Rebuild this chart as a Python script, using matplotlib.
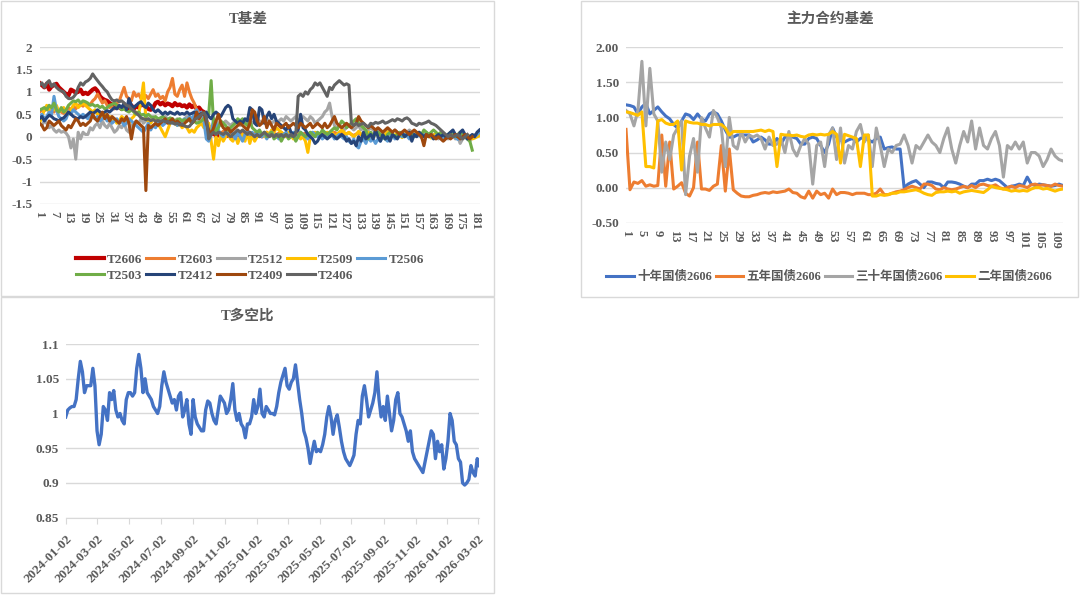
import matplotlib
matplotlib.use("Agg")
import matplotlib.pyplot as plt
from matplotlib.patches import Rectangle
import numpy as np
import pandas as pd

plt.rcParams['font.family'] = ['Liberation Serif', 'Noto Sans CJK SC', 'DejaVu Sans']
plt.rcParams['axes.unicode_minus'] = False

# ---------------- data: T基差 ----------------
T_NAMES = ["T2606", "T2603", "T2512", "T2509", "T2506", "T2503", "T2412", "T2409", "T2406"]
T_COLORS = ["#C00000", "#ED7D31", "#A5A5A5", "#FFC000", "#5B9BD5", "#70AD47", "#264478", "#9E480E", "#636363"]

T2606 = [1.20, 1.15, 1.10, 1.18, 1.05, 1.12, 1.15, 1.18, 1.10, 1.05,
         1.00, 0.95, 0.92, 1.05, 1.02, 0.98, 1.00, 1.05, 0.95, 0.98,
         0.95, 1.00, 1.05, 1.08, 1.02, 0.90, 0.85, 0.82, 0.80, 0.75,
         0.72, 0.70, 0.68, 0.65, 0.62, 0.68, 0.60, 0.65, 0.70, 0.62,
         0.68, 0.65, 0.72, 0.70, 0.68, 0.62, 0.60, 0.65, 0.75, 0.78,
         0.72, 0.76, 0.70, 0.74, 0.72, 0.68, 0.75, 0.70, 0.72, 0.68,
         0.70, 0.65, 0.72, 0.66, 0.70, 0.62, 0.65, 0.58, 0.55, 0.35,
         0.10, 0.05, 0.08, 0.02, 0.05, 0.00, 0.03, 0.06, 0.02, 0.04,
         0.00, 0.03, 0.05, 0.02, 0.06, 0.03, 0.00, 0.02, 0.05, 0.03,
         0.02, 0.04, 0.01, 0.03, 0.05, 0.02, 0.06, 0.04, 0.01, 0.03]

T2603 = [0.55, 0.60, 0.58, 0.62, 0.65, 0.60, 0.55, 0.62, 0.58, 0.55,
         0.52, 0.58, 0.65, 0.60, 0.68, 0.62, 0.70, 0.72, 0.68, 0.75,
         0.70, 0.72, 0.80, 0.85, 0.95, 0.85, 0.75, 0.80, 0.70, 0.65,
         0.68, 0.62, 0.75, 0.80, 0.95, 1.10, 0.90, 0.85, 0.80, 1.00,
         0.90, 0.95, 0.85, 0.88, 0.92, 0.85, 0.95, 1.05, 0.90, 0.95,
         0.85, 0.90, 0.80, 1.00, 1.10, 1.30, 0.95, 0.90, 1.05, 1.15,
         0.90, 1.20, 1.00, 0.85, 0.75, 0.60, 0.55, 0.50, 0.45, 0.30,
         0.20, 0.10, 0.15, 0.05, 0.10, 0.08, 0.12, 0.05, 0.10, 0.06,
         0.08, 0.05, 0.10, 0.12, 0.06, 0.04, 0.08, 0.10, 0.05, 0.07,
         0.09, 0.05, 0.03, 0.08, 0.10, 0.06, 0.04, 0.07, 0.05, 0.08,
         0.10, 0.06, 0.04, 0.08, 0.05, 0.03, 0.07, 0.09, 0.05, 0.06,
         0.08, 0.04, 0.06, 0.09, 0.05, 0.03, 0.07, 0.05, 0.08, 0.06,
         0.04, 0.07, 0.10, 0.06, 0.04, 0.08, 0.05, 0.07, 0.09, 0.05,
         0.03, 0.06, 0.08, 0.05, 0.04, 0.07, 0.05, 0.03, 0.06, 0.08,
         0.05, 0.04, 0.06, 0.03, 0.05, 0.07, 0.04, 0.02, 0.05, 0.06,
         0.04, 0.03, 0.05, 0.07, 0.04, 0.02, 0.05, 0.03, 0.06, 0.04,
         0.03, 0.05, 0.02, 0.04, 0.06, 0.03, 0.05, 0.04, 0.02, 0.03,
         0.05, 0.03, 0.01, 0.04, 0.02, 0.03, 0.05, 0.02, 0.00, 0.03,
         0.02, 0.04, 0.03]

T2512 = [0.30, 0.25, 0.35, 0.30, 0.20, 0.25, 0.15, 0.10, 0.15, 0.10,
         0.12, 0.08, 0.00, -0.25, -0.05, -0.50, 0.10, -0.05, 0.10, 0.05,
         0.05, 0.20, 0.15, 0.25, 0.30, 0.20, 0.35, 0.25, 0.20, 0.30,
         0.20, 0.10, 0.15, 0.25, 0.20, 0.30, 0.15, 0.10, 0.25, 0.30,
         0.35, 0.30, 0.40, 0.30, 0.35, 0.40, 0.35, 0.45, 0.40, 0.35,
         0.40, 0.35, 0.45, 0.40, 0.35, 0.30, 0.35, 0.40, 0.30, 0.35,
         0.40, 0.45, 0.35, 0.40, 0.45, 0.40, 0.35, 0.45, 0.40, 0.30,
         0.25, 0.20, 0.30, 0.35, 0.30, 0.25, 0.30, 0.35, 0.30, 0.25,
         0.30, 0.35, 0.30, 0.25, 0.35, 0.30, 0.40, 0.35, 0.30, 0.35,
         0.40, 0.35, 0.30, 0.35, 0.40, 0.35, 0.30, 0.35, 0.30, 0.35,
         0.40, 0.35, 0.45, 0.40, 0.35, 0.40, 0.45, 0.35, 0.40, 0.45,
         0.40, 0.35, 0.45, 0.40, 0.30, 0.35, 0.40, 0.45, 0.55, 0.60,
         0.75, 0.45, 0.25, 0.20, 0.25, 0.20, 0.15, 0.20, 0.25, 0.20,
         0.15, 0.20, 0.25, 0.15, 0.20, 0.10, 0.15, 0.20, 0.15, 0.10,
         0.15, 0.10, 0.05, 0.10, 0.15, 0.05, 0.10, 0.15, 0.10, 0.05,
         0.10, 0.05, 0.10, 0.15, 0.10, 0.05, 0.10, 0.05, 0.00, 0.05,
         0.10, 0.05, 0.00, 0.05, 0.00, -0.05, 0.00, 0.05, 0.00, -0.05,
         0.00, 0.05, -0.05, 0.00, -0.15, -0.05, 0.00, -0.05, -0.10, 0.00,
         0.05, 0.00, 0.05]

T2509 = [0.30, 0.45, 0.60, 0.70, 0.55, 0.65, 0.60, 0.70, 0.55, 0.60,
         0.65, 0.55, 0.50, 0.60, 0.70, 0.75, 0.65, 0.70, 0.75, 0.70,
         0.65, 0.60, 0.55, 0.60, 0.50, 0.55, 0.45, 0.50, 0.40, 0.45,
         0.35, 0.40, 0.30, 0.35, 0.45, 0.40, 0.35, 0.30, 0.40, 0.45,
         0.55, 0.50, 0.80, 1.20, 0.40, 0.35, 0.30, 0.40, 0.35, 0.30,
         0.20, 0.10, 0.00, 0.15, 0.30, 0.35, 0.30, 0.25, 0.30, 0.20,
         0.25, 0.20, 0.10, 0.15, 0.10, 0.20, 0.25, 0.30, 0.20, 0.25,
         0.30, -0.10, -0.50, 0.00, -0.20, 0.05, -0.10, 0.00, 0.10, -0.05,
         -0.10, 0.05, -0.15, 0.00, 0.05, -0.10, 0.10, -0.15, 0.05, -0.10,
         0.00, 0.10, 0.05, 0.00, 0.10, 0.05, 0.15, 0.10, 0.20, 0.15,
         0.10, 0.05, 0.00, 0.10, 0.05, -0.05, 0.00, 0.05, -0.05, 0.00,
         -0.10, -0.35, 0.00, 0.05, 0.10, 0.05, 0.00, 0.10, 0.05, 0.10,
         0.05, 0.10, 0.00, 0.05, 0.10, 0.15, 0.10, 0.05, 0.10, 0.05,
         0.00, 0.05, 0.12, 0.06, -0.02, 0.04, 0.10, 0.03, 0.00, 0.06,
         0.09, 0.04, -0.03, 0.05, 0.11, 0.06, 0.01, 0.04, 0.08, 0.03,
         -0.02, 0.05, 0.09, 0.04, 0.00, 0.06, 0.10, 0.05, 0.01, 0.03,
         0.07, 0.02, -0.03, 0.04, 0.06, 0.01, 0.05, 0.03, -0.02, 0.04,
         0.02, 0.05, 0.00, -0.04, 0.03, 0.01, 0.04, -0.02, 0.02, -0.05,
         -0.03, 0.00, 0.02]

T2506 = [0.45, 0.50, 0.40, 0.45, 0.55, 0.50, 0.90, 0.60, 0.45, 0.40,
         0.35, 0.40, 0.55, 0.50, 0.60, 0.55, 0.50, 0.45, 0.50, 0.45,
         0.40, 0.50, 0.45, 0.40, 0.45, 0.35, 0.40, 0.45, 0.35, 0.40,
         0.30, 0.35, 0.40, 0.30, 0.35, 0.25, 0.30, 0.40, 0.35, 0.30,
         0.25, 0.20, 0.15, 0.10, 0.20, 0.30, 0.15, 0.25, 0.20, 0.30,
         0.35, 0.25, 0.30, 0.35, 0.40, 0.30, 0.35, 0.25, 0.30, 0.35,
         0.40, 0.35, 0.45, 0.40, 0.50, 0.60, 0.45, 0.55, 0.35, -0.05,
         -0.10, 0.05, 0.40, 0.30, 0.15, 0.05, 0.00, 0.10, 0.05, 0.15,
         0.05, -0.05, 0.10, 0.00, -0.10, 0.05, 0.15, 0.05, 0.10, 0.00,
         0.10, 0.05, 0.00, 0.10, -0.05, 0.05, 0.10, 0.00, 0.05, -0.05,
         0.00, 0.05, 0.10, 0.00, 0.05, 0.10, 0.05, 0.00, 0.10, 0.05,
         0.00, -0.05, 0.05, 0.10, 0.05, 0.00, 0.05, -0.05, 0.00, 0.05,
         0.00, 0.05, -0.05, 0.00, 0.05, 0.00, -0.05, 0.00, -0.10, -0.15,
         -0.05, -0.20, -0.25, -0.10, -0.05, -0.15, 0.00, -0.10, -0.05, -0.15,
         -0.05, -0.10, 0.00, -0.05, -0.10, 0.00, 0.05, -0.05, 0.00, 0.05,
         0.00, 0.05, 0.02, -0.05, 0.00, 0.06, 0.01, 0.04, -0.02, 0.05,
         0.00, 0.03, 0.01, -0.04, 0.02, 0.05, 0.00, -0.05, 0.02, 0.04,
         0.00, 0.03, -0.02, -0.06, 0.01, 0.04, -0.01, -0.04, 0.00, 0.03,
         0.00, 0.05, 0.10]

T2503 = [0.60, 0.62, 0.65, 0.60, 0.70, 0.65, 0.75, 0.60, 0.55, 0.65,
         0.55, 0.60, 0.70, 0.75, 0.80, 0.78, 0.82, 0.75, 0.80, 0.78,
         0.75, 0.70, 0.72, 0.68, 0.70, 0.65, 0.68, 0.62, 0.65, 0.70,
         0.72, 0.75, 0.70, 0.65, 0.60, 0.62, 0.58, 0.55, 0.60, 0.55,
         0.50, 0.55, 0.48, 0.50, 0.45, 0.50, 0.45, 0.42, 0.45, 0.40,
         0.42, 0.45, 0.40, 0.38, 0.42, 0.40, 0.35, 0.38, 0.40, 0.35,
         0.38, 0.35, 0.40, 0.30, 0.35, 0.30, 0.32, 0.35, 0.40, 0.45,
         0.50, 1.25, 0.30, 0.10, 0.20, 0.35, 0.30, 0.25, 0.15, 0.20,
         0.25, 0.30, 0.40, 0.35, 0.40, 0.30, 0.25, 0.35, 0.20, 0.15,
         0.10, 0.15, 0.05, 0.10, 0.00, 0.05, 0.10, -0.05, 0.00, 0.05,
         -0.10, 0.00, 0.05, -0.05, 0.00, 0.05, -0.10, 0.00, 0.10, 0.05,
         0.00, 0.05, 0.10, 0.05, 0.00, 0.10, 0.05, 0.15, 0.10, 0.05,
         0.10, 0.15, 0.20, 0.15, 0.25, 0.35, 0.30, 0.20, 0.25, 0.30,
         0.35, 0.40, 0.30, 0.25, 0.20, 0.15, -0.05, 0.10, 0.00, 0.05,
         0.10, 0.05, 0.00, -0.05, 0.05, 0.10, 0.05, 0.00, 0.05, 0.10,
         0.05, 0.00, 0.05, 0.10, 0.05, 0.00, 0.05, 0.10, 0.05, 0.15,
         0.10, 0.05, 0.10, 0.15, 0.10, 0.05, 0.10, 0.05, 0.00, 0.05,
         0.10, 0.05, 0.00, 0.05, 0.10, 0.05, 0.00, -0.05, -0.10, -0.30]

T2412 = [0.40, 0.45, 0.35, 0.42, 0.48, 0.45, 0.40, 0.38, 0.35, 0.40,
         0.42, 0.48, 0.55, 0.50, 0.45, 0.42, 0.40, 0.45, 0.42, 0.45,
         0.50, 0.55, 0.52, 0.55, 0.60, 0.55, 0.52, 0.55, 0.58, 0.55,
         0.60, 0.65, 0.62, 0.70, 0.65, 0.75, 0.60, 0.85, 0.70, 0.65,
         0.70, 0.75, 0.78, 0.70, 0.65, 0.75, 0.70, 0.60, 0.55, 0.60,
         0.55, 0.50, 0.55, 0.50, 0.55, 0.52, 0.50, 0.55, 0.50, 0.52,
         0.50, 0.55, 0.50, 0.52, 0.55, 0.50, 0.48, 0.52, 0.50, 0.55,
         0.45, 0.40, 0.50, 0.55, 0.50, 0.45, 0.55, 0.65, 0.70, 0.65,
         0.40, 0.35, 0.30, 0.35, 0.30, 0.40, 0.35, 0.65, 0.60, 0.30,
         0.25, 0.65, 0.60, 0.30, 0.45, 0.55, 0.40, 0.50, 0.35, 0.30,
         0.25, 0.20, 0.15, 0.25, 0.10, 0.05, 0.10, 0.15, 0.50, 0.20,
         0.15, 0.05, 0.00, -0.05, -0.15, -0.10, 0.00, 0.05, 0.00, -0.05,
         0.00, 0.05, 0.00, -0.05, 0.00, 0.05, 0.00, -0.10, -0.05, -0.15,
         -0.10, -0.20, 0.00, -0.10, 0.10, -0.05, 0.00, 0.05, -0.05, 0.15,
         0.00, -0.10, 0.05, -0.05, 0.00, -0.10, 0.05, 0.00, -0.05, 0.05,
         0.10, 0.00, 0.05, 0.10, -0.10, 0.05, 0.00, 0.10, 0.05, 0.00,
         0.05, 0.00, 0.05, -0.05, 0.00, 0.05, 0.00, 0.05, 0.00, 0.05,
         0.10, 0.15, 0.05, 0.00, 0.10, 0.15, 0.05, -0.05, 0.00, 0.05,
         0.00, 0.10, 0.15]

T2409 = [0.30, 0.25, 0.15, 0.20, 0.35, 0.30, 0.25, 0.30, 0.35, 0.25,
         0.20, 0.15, 0.25, 0.20, 0.30, 0.40, 0.35, 0.25, 0.30, 0.25,
         0.30, 0.35, 0.50, 0.40, 0.35, 0.45, 0.55, 0.40, 0.50, 0.35,
         0.45, 0.40, 0.35, 0.30, 0.40, 0.35, 0.45, 0.30, -0.05, 0.25,
         0.35, 0.30, 0.25, 0.20, -1.20, 0.25, 0.20, 0.25, 0.30, 0.25,
         0.30, 0.35, 0.40, 0.30, 0.35, 0.40, 0.30, 0.35, 0.30, 0.25,
         0.30, 0.35, 0.40, 0.30, 0.35, 0.55, 0.40, 0.50, 0.55, 0.30,
         0.15, 0.05, 0.20, 0.35, 0.50, 0.30, 0.20, 0.15, 0.20, 0.10,
         0.15, 0.20, 0.25, 0.30, 0.25, 0.20, 0.15, 0.30, 0.60, 0.55,
         0.35, 0.25, 0.30, 0.45, 0.20, 0.35, 0.25, 0.15, 0.30, 0.25,
         0.20, 0.25, 0.30, 0.20, 0.25, 0.30, 0.25, 0.20, 0.30, 0.25,
         0.20, 0.25, 0.30, 0.20, 0.25, 0.30, 0.25, 0.20, 0.30, 0.20,
         0.25, 0.35, 0.45, 0.30, 0.25, 0.20, 0.25, 0.30, 0.25, 0.20,
         0.25, 0.30, 0.45, 0.35, 0.30, 0.25, 0.20, 0.25, 0.20, 0.15,
         0.20, 0.15, 0.10, 0.15, 0.20, 0.15, 0.10, 0.15, 0.10, 0.05,
         0.10, 0.15, 0.10, 0.05, 0.10, 0.15, 0.10, 0.05, 0.00, -0.20,
         0.05, 0.00, 0.05, 0.00, -0.05, 0.00, -0.05, -0.10, -0.05, 0.00,
         -0.05, 0.00, 0.05, 0.00, -0.05, 0.00, 0.05, 0.00, -0.05, 0.00]

T2406 = [1.15, 1.20, 1.10, 1.20, 1.25, 1.12, 1.18, 1.10, 1.05, 1.02,
         1.00, 0.90, 0.85, 0.85, 0.88, 0.95, 1.10, 1.20, 1.15, 1.22,
         1.25, 1.30, 1.40, 1.32, 1.25, 1.18, 1.12, 1.05, 1.00, 0.90,
         0.82, 0.80, 0.82, 0.78, 0.80, 0.75, 0.70, 0.68, 0.62, 0.58,
         0.53, 0.48, 0.42, 0.40, 0.38, 0.40, 0.36, 0.38, 0.35, 0.36,
         0.34, 0.36, 0.33, 0.34, 0.30, 0.32, 0.28, 0.30, 0.26, 0.28,
         0.24, 0.22, 0.23, 0.30, 0.38, 0.41, 0.45, 0.50, 0.53, 0.45,
         -0.05, 0.05, 0.10, 0.05, 0.10, 0.08, 0.05, 0.10, 0.05, 0.00,
         0.05, 0.10, 0.15, 0.10, 0.15, 0.10, 0.05, 0.10, 0.05, 0.00,
         0.05, 0.00, 0.05, 0.10, 0.05, 0.00, 0.05, 0.00, 0.05, 0.00,
         0.05, 0.00, 0.05, 0.00, 0.05, 0.00, 0.05, 0.90, 0.95, 0.90,
         1.00, 0.95, 1.05, 1.10, 1.20, 1.15, 1.20, 1.10, 1.00, 0.90,
         1.10, 1.05, 1.15, 1.20, 1.25, 1.20, 1.15, 1.18, 1.15, 0.30,
         0.25, 0.30, 0.25, 0.28, 0.30, 0.25, 0.22, 0.30, 0.28, 0.32,
         0.30, 0.32, 0.35, 0.30, 0.32, 0.35, 0.38, 0.35, 0.40, 0.38,
         0.35, 0.40, 0.42, 0.38, 0.30, 0.28, 0.25, 0.30, 0.28, 0.30,
         0.32, 0.35, 0.30, 0.28, 0.25, 0.20, 0.15, 0.10, 0.05, 0.00,
         0.05, 0.00, 0.02, 0.05, 0.00, -0.05, 0.00, 0.05]

T_SERIES = [T2606, T2603, T2512, T2509, T2506, T2503, T2412, T2409, T2406]
T_NCAT = 183

# ---------------- data: 主力合约基差 ----------------
M_NAMES = ["十年国债2606", "五年国债2606", "三十年国债2606", "二年国债2606"]
M_COLORS = ["#4472C4", "#ED7D31", "#A5A5A5", "#FFC000"]

TEN_Y = [1.18, 1.17, 1.15, 1.05, 1.15, 1.20, 1.05, 1.10, 1.15, 1.08,
         1.02, 0.98, 0.90, 0.85, 0.95, 1.05, 1.03, 0.97, 1.05, 0.98,
         0.95, 1.05, 1.08, 1.05, 0.95, 0.82, 0.72, 0.72, 0.75, 0.75,
         0.75, 0.75, 0.65, 0.68, 0.72, 0.68, 0.62, 0.62, 0.70, 0.62,
         0.72, 0.75, 0.72, 0.70, 0.62, 0.62, 0.70, 0.72, 0.70, 0.60,
         0.50, 0.62, 0.85, 0.72, 0.68, 0.65, 0.68, 0.70, 0.65, 0.70,
         0.72, 0.68, 0.65, 0.70, 0.72, 0.55, 0.57, 0.58, 0.55, 0.55,
         0.00, 0.05, 0.08, 0.10, 0.05, 0.00, 0.08, 0.08, 0.06, 0.05,
         0.00, 0.08, 0.08, 0.07, 0.05, 0.02, 0.00, 0.05, 0.05, 0.10,
         0.10, 0.12, 0.10, 0.12, 0.10, 0.05, 0.00, 0.02, 0.03, 0.05,
         0.03, 0.15, 0.05, 0.03, 0.05, 0.04, 0.03, 0.02, 0.03, 0.05, 0.03]

FIVE_Y = [0.83, -0.03, 0.08, 0.06, 0.10, 0.02, 0.04, 0.02, 0.03, 0.75,
          0.02, 0.65, -0.02, 0.02, 0.07, -0.08, -0.12, 0.00, 0.65, -0.02,
          -0.02, -0.04, 0.02, 0.05, 0.60, -0.05, 0.55, -0.03, -0.08, -0.12,
          -0.13, -0.13, -0.11, -0.10, -0.08, -0.07, -0.08, -0.06, -0.07, -0.06,
          -0.05, -0.02, -0.07, -0.08, -0.13, -0.15, -0.05, -0.15, -0.05, -0.10,
          -0.08, -0.15, -0.02, -0.10, -0.07, -0.07, -0.08, -0.10, -0.08, -0.08,
          -0.08, -0.10, -0.10, -0.08, -0.02, -0.10, -0.10, -0.08, -0.06, -0.05,
          -0.03, 0.00, 0.02, 0.00, -0.02, 0.05, 0.05, 0.03, -0.02, -0.03,
          0.00, -0.02, -0.03, -0.02, 0.00, 0.02, 0.00, 0.03, 0.00, 0.04,
          0.05, 0.03, 0.02, 0.04, 0.00, -0.02, 0.00, 0.02, 0.00, 0.03,
          0.02, 0.00, 0.04, 0.05, 0.03, 0.04, 0.03, 0.02, 0.05, 0.03, 0.02]

THIRTY_Y = [1.10, 1.05, 0.88, 1.10, 1.80, 0.88, 1.70, 1.05, 0.95, 0.22,
            0.65, 0.40, 0.75, 0.85, 0.95, -0.10, 0.45, 0.70, 0.22, 1.00,
            0.85, 0.72, 1.10, 1.00, 0.85, 0.30, 1.00, 0.60, 0.55, 0.80,
            0.65, 0.75, 0.72, 0.75, 0.70, 0.55, 0.72, 0.60, 0.62, 0.70,
            0.50, 0.80, 0.55, 0.45, 0.60, 0.70, 0.62, 0.05, 0.60, 0.65,
            0.30, 0.75, 0.85, 0.40, 0.85, 0.35, 0.60, 0.55, 0.80, 0.90,
            0.65, 0.75, 0.30, 0.85, 0.60, 0.30, 0.55, 0.50, 0.60, 0.62,
            0.75, 0.60, 0.35, 0.60, 0.55, 0.65, 0.75, 0.65, 0.60, 0.50,
            0.70, 0.85, 0.55, 0.35, 0.60, 0.80, 0.65, 0.95, 0.55, 0.85,
            0.60, 0.55, 0.70, 0.80, 0.60, 0.15, 0.60, 0.55, 0.65, 0.55,
            0.65, 0.35, 0.50, 0.50, 0.45, 0.30, 0.40, 0.55, 0.45, 0.40, 0.38]

TWO_Y = [1.08, 1.07, 1.05, 1.03, 1.08, 0.30, 0.30, 0.28, 0.95, 0.97,
         0.92, 0.90, 0.90, 0.95, 0.25, 0.95, 0.93, 0.92, 0.92, 0.90,
         0.90, 0.88, 0.90, 0.90, 0.90, 0.85, 0.75, 0.80, 0.80, 0.80,
         0.80, 0.80, 0.80, 0.81, 0.82, 0.80, 0.82, 0.80, 0.30, 0.76,
         0.75, 0.75, 0.74, 0.75, 0.73, 0.72, 0.75, 0.76, 0.75, 0.76,
         0.75, 0.76, 0.80, 0.76, 0.35, 0.76, 0.74, 0.72, 0.70, 0.30,
         0.75, 0.75, -0.12, -0.12, -0.10, -0.11, -0.10, -0.08, -0.08, -0.06,
         -0.06, -0.05, -0.04, -0.03, -0.05, -0.08, -0.10, -0.11, -0.07, -0.06,
         -0.06, -0.05, -0.06, -0.05, -0.08, -0.06, -0.05, -0.04, -0.05, -0.06,
         -0.07, -0.03, 0.02, 0.00, -0.01, -0.02, -0.03, -0.05, -0.04, -0.05,
         -0.04, -0.05, -0.02, 0.00, 0.00, -0.02, -0.01, -0.03, -0.05, -0.03, -0.02]

M_SERIES = [TEN_Y, FIVE_Y, THIRTY_Y, TWO_Y]

# ---------------- data: T多空比 (sampled every 4 days from 2024-01-02) ----------------
RATIO_START = "2024-01-02"
RATIO = [0.995, 1.005, 1.008, 1.010, 1.010, 1.020, 1.050, 1.075, 1.060, 1.030,
         1.040, 1.040, 1.040, 1.065, 1.040, 0.975, 0.955, 0.970, 1.010, 1.005,
         0.990, 1.030, 1.020, 1.033, 1.005, 0.995, 1.000, 0.990, 0.985, 1.020,
         1.030, 1.030, 1.025, 1.030, 1.065, 1.085, 1.065, 1.030, 1.050, 1.030,
         1.025, 1.020, 1.010, 1.005, 1.000, 1.010, 1.040, 1.060, 1.045, 1.035,
         1.025, 1.015, 1.020, 1.005, 1.025, 1.030, 0.995, 1.005, 1.020, 0.985,
         0.970, 1.020, 0.995, 0.985, 0.980, 0.975, 0.975, 1.005, 1.018, 1.015,
         1.000, 0.990, 0.985, 1.005, 1.025, 1.020, 1.015, 1.000, 1.005, 1.020,
         1.043, 1.005, 0.990, 1.000, 0.985, 0.980, 0.965, 0.985, 0.985, 0.995,
         1.020, 1.000, 1.010, 1.035, 1.000, 0.995, 1.010, 1.005, 1.000, 1.000,
         0.998, 1.010, 1.030, 1.045, 1.055, 1.065, 1.040, 1.035, 1.045, 1.050,
         1.070, 1.045, 1.020, 1.000, 0.975, 0.965, 0.950, 0.928, 0.945, 0.960,
         0.945, 0.948, 0.945, 0.955, 0.970, 0.995, 1.010, 0.995, 0.970, 0.990,
         0.998, 0.980, 0.960, 0.945, 0.935, 0.930, 0.925, 0.932, 0.940, 0.970,
         0.990, 0.985, 1.025, 1.040, 1.020, 0.995, 1.005, 1.015, 1.030, 1.060,
         1.020, 0.995, 1.010, 0.990, 1.025, 1.000, 0.975, 0.990, 1.020, 1.030,
         1.000, 0.995, 0.985, 0.975, 0.960, 0.975, 0.945, 0.935, 0.930, 0.925,
         0.920, 0.915, 0.930, 0.945, 0.960, 0.975, 0.970, 0.935, 0.960, 0.945,
         0.955, 0.920, 0.935, 0.960, 1.000, 0.990, 0.960, 0.955, 0.935, 0.930,
         0.900, 0.897, 0.900, 0.905, 0.925, 0.915, 0.910, 0.935, 0.925]

# ---------------- layout ----------------
W, H = 1080, 595
fig = plt.figure(figsize=(W / 100, H / 100), dpi=100)
fig.patch.set_facecolor("white")

TXT = "#595959"
GRID = "#D9D9D9"


def px_axes(left, top, right, bottom):
    return fig.add_axes([left / W, 1 - bottom / H, (right - left) / W, (bottom - top) / H])


def panel(left, top, right, bottom):
    fig.patches.append(Rectangle((left / W, 1 - bottom / H), (right - left) / W, (bottom - top) / H,
                                 transform=fig.transFigure, fill=False, edgecolor=GRID, lw=1.0))


def style_axes(ax):
    for s in ax.spines.values():
        s.set_visible(False)
    ax.grid(axis="y", color=GRID, lw=1.0)
    ax.set_axisbelow(True)
    ax.tick_params(axis="y", length=0, pad=5, labelsize=9.5, labelcolor=TXT)
    for lab in ax.get_yticklabels():
        lab.set_fontweight("bold")


panel(0.5, 0.5, 494, 296)
panel(0.5, 297, 494, 593)
panel(581, 0.5, 1078, 297)

# ---- chart 1: T基差 ----
ax1 = px_axes(39.5, 47, 479.5, 204)
for name, col, vals in zip(T_NAMES, T_COLORS, T_SERIES):
    x = np.arange(1, len(vals) + 1)
    ax1.plot(x, vals, color=col, lw=3.0 if name == "T2606" else 2.2, label=name, solid_joinstyle="round")
ax1.set_xlim(1, T_NCAT)
ax1.set_ylim(-1.5, 2)
yt = np.arange(-1.5, 2.01, 0.5)
ax1.set_yticks(yt)
ax1.set_yticklabels([f"{v:g}" for v in yt], fontweight="bold")
xt = list(range(1, T_NCAT + 1, 6))
ax1.set_xticks(xt)
ax1.set_xticklabels([str(v) for v in xt], rotation=-90, va="top", ha="center",
                    fontsize=9, color=TXT, fontweight="bold")
ax1.tick_params(axis="x", length=0, pad=5)
style_axes(ax1)
fig.text(248 / W, 1 - 19 / H, "T基差", ha="center", va="center", fontsize=10.5, color=TXT, fontweight="bold")

h, l = ax1.get_legend_handles_labels()
order = [0, 5, 1, 6, 2, 7, 3, 8, 4]
leg1 = ax1.legend([h[i] for i in order], [l[i] for i in order], ncol=5,
                  loc="center", bbox_to_anchor=(250 / W, 1 - 267.5 / H), bbox_transform=fig.transFigure,
                  frameon=False, fontsize=9.5, handlelength=2.1, handletextpad=0.25,
                  columnspacing=0.3, labelspacing=0.3, borderaxespad=0)
for t in leg1.get_texts():
    t.set_color(TXT)
    t.set_fontweight("bold")

# ---- chart 2: 主力合约基差 ----
ax2 = px_axes(626, 47.3, 1063, 222.7)
for name, col, vals in zip(M_NAMES, M_COLORS, M_SERIES):
    x = np.arange(1, len(vals) + 1)
    ax2.plot(x, vals, color=col, lw=2.2, label=name, solid_joinstyle="round")
n2 = len(TEN_Y)
ax2.set_xlim(1, n2)
ax2.set_ylim(-0.5, 2.0)
yt2 = np.arange(-0.5, 2.01, 0.5)
ax2.set_yticks(yt2)
ax2.set_yticklabels([f"{v:.2f}" for v in yt2], fontweight="bold")
xt2 = list(range(1, n2 + 1, 4))
ax2.set_xticks(xt2)
ax2.set_xticklabels([str(v) for v in xt2], rotation=-90, va="top", ha="center",
                    fontsize=9, color=TXT, fontweight="bold")
ax2.tick_params(axis="x", length=0, pad=5)
style_axes(ax2)
fig.text(830 / W, 1 - 19 / H, "主力合约基差", ha="center", va="center", fontsize=10.5, color=TXT, fontweight="bold")
leg2 = ax2.legend(ncol=4, loc="center", bbox_to_anchor=(829 / W, 1 - 277 / H), bbox_transform=fig.transFigure,
                  frameon=False, fontsize=9, handlelength=2.2, handletextpad=0.25,
                  columnspacing=0.3, borderaxespad=0)
for t in leg2.get_texts():
    t.set_color(TXT)
    t.set_fontweight("bold")

# ---- chart 3: T多空比 ----
ax3 = px_axes(65.7, 344, 479.3, 517.7)
dates = pd.date_range(RATIO_START, periods=len(RATIO), freq="4D")
ax3.plot(dates, RATIO, color="#4472C4", lw=2.4, solid_joinstyle="round")
ax3.set_xlim(pd.Timestamp("2024-01-02"), pd.Timestamp("2026-03-04"))
ax3.set_ylim(0.85, 1.1)
yt3 = [0.85, 0.9, 0.95, 1.0, 1.05, 1.1]
ax3.set_yticks(yt3)
ax3.set_yticklabels([f"{v:g}" for v in yt3], fontweight="bold")
tick_dates = pd.date_range("2024-01-01", "2026-03-01", freq="2MS") + pd.Timedelta(days=1)
ax3.set_xticks(tick_dates)
ax3.set_xticklabels([d.strftime("%Y-%m-%d") for d in tick_dates], rotation=45, ha="right",
                    rotation_mode="anchor", fontsize=9.5, color=TXT, fontweight="bold")
style_axes(ax3)
ax3.spines["bottom"].set_visible(True)
ax3.spines["bottom"].set_color(GRID)
ax3.tick_params(axis="x", length=4, color=GRID, pad=7)
fig.text(248 / W, 1 - 316 / H, "T多空比", ha="center", va="center", fontsize=10.5, color=TXT, fontweight="bold")

fig.savefig("out.png", dpi=100, facecolor="white")
